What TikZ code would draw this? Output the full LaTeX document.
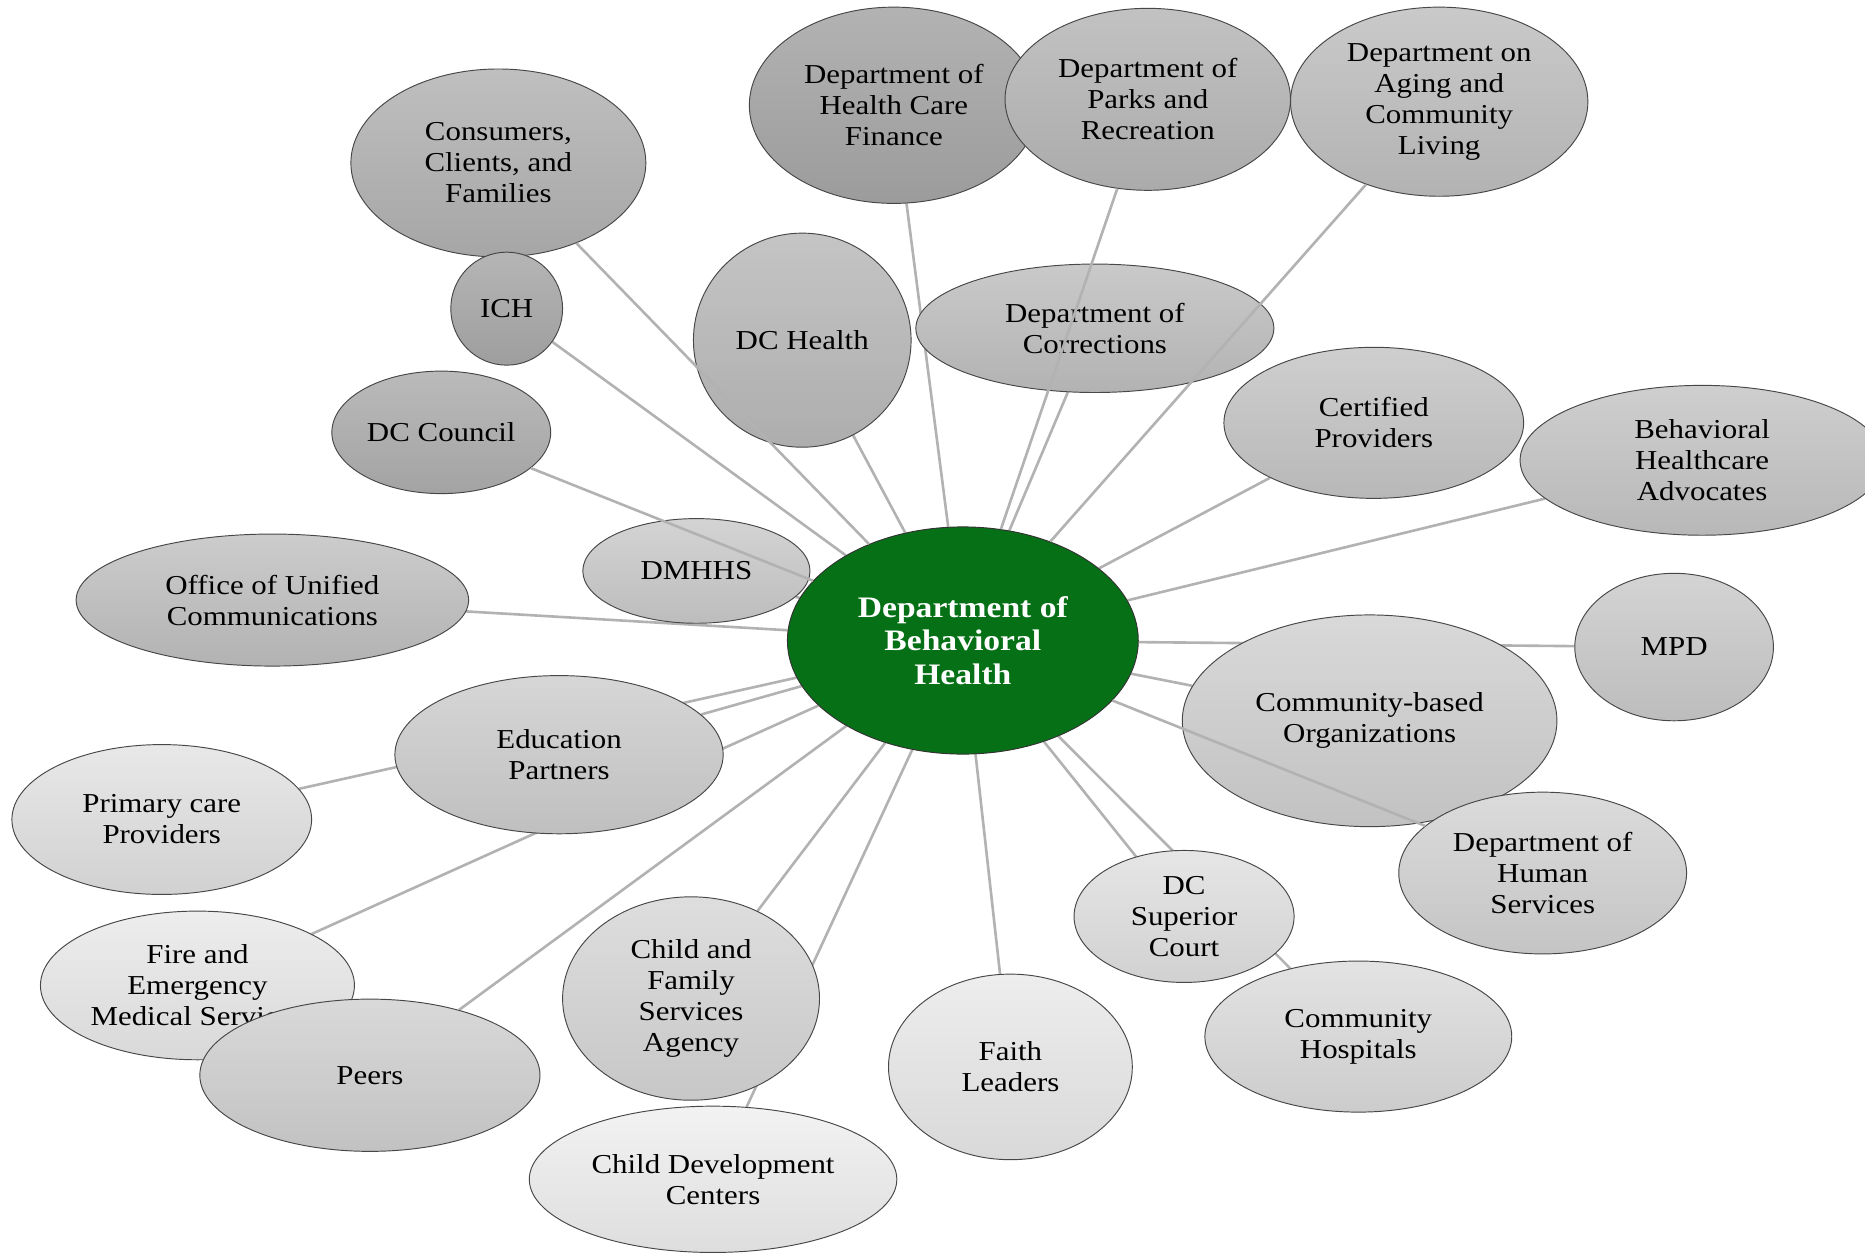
\documentclass[tikz,border=0pt]{standalone}
\usepackage{fontspec}
\setmainfont{Liberation Serif}[FakeStretch=1.13]
\usetikzlibrary{shapes.geometric}
\pgfdeclarelayer{back}
\pgfdeclarelayer{front}
\pgfsetlayers{back,main,front}
\definecolor{dbhgreen}{RGB}{6,112,22}
\begin{document}
\begin{tikzpicture}[x=1pt,y=-1pt,
  bub/.style 2 args={ellipse, draw=black!72, line width=0.8pt, inner sep=0pt,
    align=center, font=\fontsize{23}{26}\selectfont,
    top color=black!#1, bottom color=black!#2},
  sz/.style 2 args={minimum width=#1, minimum height=#2},
  hub/.style={ellipse, draw=black!80, line width=0.8pt, fill=dbhgreen,
    inner sep=0pt, align=center, text=white,
    font=\bfseries\fontsize{25}{28}\selectfont},
  link/.style={draw=black!30, line width=2.2pt}]
\useasboundingbox (0,0) rectangle (1568,1054.3);

% outer ring of partner agencies
\node[bub={25}{35}, sz={248}{158}] (consumers) at (419,137) {Consumers,\\Clients, and\\Families};
\node[bub={29}{38}, sz={94}{95}] (ich) at (426,259.5) {ICH};
\node[bub={27}{36}, sz={184}{103}] (council) at (371,363.5) {DC Council};
\node[bub={17}{26}, sz={191}{88}] (dmhhs) at (585.5,480) {DMHHS};
\node[bub={20}{30}, sz={330}{111}] (ouc) at (229,504.5) {Office of Unified\\Communications};
\node[bub={16}{25}, sz={276}{133}] (edu) at (470,634.5) {Education\\Partners};
\node[bub={9}{18}, sz={252}{126}] (primary) at (136,689) {Primary care\\Providers};
\node[bub={7}{15}, sz={264}{125}] (fire) at (166,828.5) {Fire and\\Emergency\\Medical Services};
\node[bub={15}{24}, sz={286}{128}] (peers) at (311,904) {Peers};
\node[bub={13}{22}, sz={216}{171}] (cfsa) at (581,839.5) {Child and\\Family\\Services\\Agency};
\node[bub={5}{13}, sz={309}{123}] (cdc) at (599.5,991.5) {Child Development\\Centers};
\node[bub={7}{15}, sz={205}{156}] (faith) at (849.5,897) {Faith\\Leaders};
\node[bub={10}{18}, sz={185}{111}] (dcsc) at (995.5,770.5) {DC\\Superior\\Court};
\node[bub={11}{20}, sz={258}{127}] (hosp) at (1142,871.5) {Community\\Hospitals};
\node[bub={15}{24}, sz={315}{178}] (cbo) at (1151.5,606) {Community-based\\Organizations};
\node[bub={14}{23}, sz={242}{136}] (dhs) at (1297,734) {Department of\\Human\\Services};
\node[bub={17}{26}, sz={167}{124}] (mpd) at (1407.5,544) {MPD};
\node[bub={19}{28}, sz={306}{126}] (bha) at (1431,387) {Behavioral\\Healthcare\\Advocates};
\node[bub={19}{28}, sz={252}{127}] (cert) at (1155,355.5) {Certified\\Providers};
\node[bub={21}{30}, sz={301}{108}] (corr) at (920.5,276) {Department of\\Corrections};
\node[bub={23}{32}, sz={183}{180}] (dchealth) at (674.5,286) {DC Health};
\node[bub={30}{39}, sz={243}{165}] (dhcf) at (751.5,88.5) {Department of\\Health Care\\Finance};
\node[bub={24}{33}, sz={240}{153}] (parks) at (965,83.5) {Department of\\Parks and\\Recreation};
\node[bub={21}{30}, sz={250}{159}] (aging) at (1210,85.5) {Department on\\Aging and\\Community\\Living};

% the department at the hub
\node[hub, minimum width=295, minimum height=191] (dbh) at (809.5,538.5) {Department of\\Behavioral\\Health};

% spokes that run behind the bubbles
\begin{pgfonlayer}{back}
  \foreach \n in {dmhhs,ouc,edu,primary,fire,peers,cfsa,cdc,faith,dcsc,hosp,
                  cbo,mpd,bha,cert,corr,dchealth,dhcf,ich}
    \draw[link] (dbh) -- (\n);
\end{pgfonlayer}

% spokes that cross over other bubbles
\begin{pgfonlayer}{front}
  \foreach \n in {council,dhs,consumers,parks,aging}
    \draw[link] (dbh) -- (\n);
\end{pgfonlayer}
\end{tikzpicture}
\end{document}
